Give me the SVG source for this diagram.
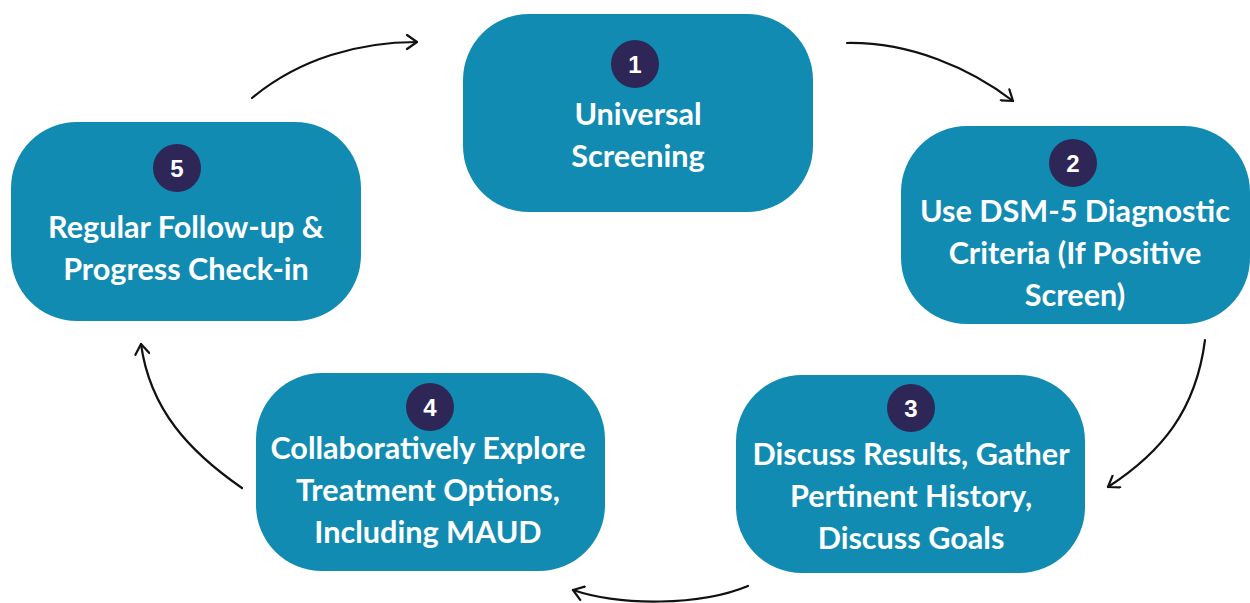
<svg xmlns="http://www.w3.org/2000/svg" width="1250" height="603" viewBox="0 0 1250 603">
  <style>
    .box { fill: #128bb3; }
    .badge { fill: #2e2657; }
    .num { font-family: "Liberation Sans", Arial, sans-serif; font-weight: bold; font-size: 24px; fill: #ffffff; text-anchor: middle; }
    .label { font-family: Lato, "Open Sans", sans-serif; font-weight: bold; font-size: 30.6px; fill: #ffffff; text-anchor: middle; }
    .conn { fill: none; stroke: #111111; stroke-width: 2.2; stroke-linecap: round; }
  </style>
  <defs>
    <marker id="arrow" viewBox="-12 -8 14 16" markerWidth="14" markerHeight="16" refX="0" refY="0" orient="auto" markerUnits="userSpaceOnUse">
      <path d="M-10,-7 L0,0 L-10,7" fill="none" stroke="#111111" stroke-width="2.2" stroke-linecap="round" stroke-linejoin="round"/>
    </marker>
  </defs>

  <!-- cycle connectors -->
  <g id="connectors">
    <path class="conn" d="M252,98 C300,58 360,42 417,42" marker-end="url(#arrow)"/>
    <path class="conn" d="M847,43 C910,42 970,68 1013,101" marker-end="url(#arrow)"/>
    <path class="conn" d="M1205,340 C1196,410 1162,452 1108,487" marker-end="url(#arrow)"/>
    <path class="conn" d="M748,586 C700,606 620,606 573,590" marker-end="url(#arrow)"/>
    <path class="conn" d="M242,488 C190,452 150,410 141,344" marker-end="url(#arrow)"/>
  </g>

  <g id="step1">
    <rect class="box" x="463" y="14" width="350" height="198" rx="66"/>
    <circle class="badge" cx="635" cy="64" r="24"/>
    <text class="num" x="635" y="73">1</text>
    <text class="label" x="638" y="125">Universal</text>
    <text class="label" x="638" y="167">Screening</text>
  </g>

  <g id="step2">
    <rect class="box" x="901" y="126" width="349" height="198" rx="66"/>
    <circle class="badge" cx="1073" cy="163" r="24"/>
    <text class="num" x="1073" y="172">2</text>
    <text class="label" x="1075" y="222">Use DSM-5 Diagnostic</text>
    <text class="label" x="1075" y="264">Criteria (If Positive</text>
    <text class="label" x="1075" y="306">Screen)</text>
  </g>

  <g id="step3">
    <rect class="box" x="736" y="375" width="349" height="198" rx="66"/>
    <circle class="badge" cx="911" cy="408" r="24"/>
    <text class="num" x="911" y="417">3</text>
    <text class="label" x="911" y="465">Discuss Results, Gather</text>
    <text class="label" x="911" y="507">Pertinent History,</text>
    <text class="label" x="911" y="549">Discuss Goals</text>
  </g>

  <g id="step4">
    <rect class="box" x="256" y="373" width="349" height="198" rx="66"/>
    <circle class="badge" cx="430" cy="407" r="24"/>
    <text class="num" x="430" y="416">4</text>
    <text class="label" x="428" y="459">Collaboratively Explore</text>
    <text class="label" x="428" y="501">Treatment Options,</text>
    <text class="label" x="428" y="543">Including MAUD</text>
  </g>

  <g id="step5">
    <rect class="box" x="11" y="122" width="350" height="199" rx="66"/>
    <circle class="badge" cx="177" cy="168" r="24"/>
    <text class="num" x="177" y="177">5</text>
    <text class="label" x="186" y="238">Regular Follow-up &amp;</text>
    <text class="label" x="186" y="280">Progress Check-in</text>
  </g>
</svg>
